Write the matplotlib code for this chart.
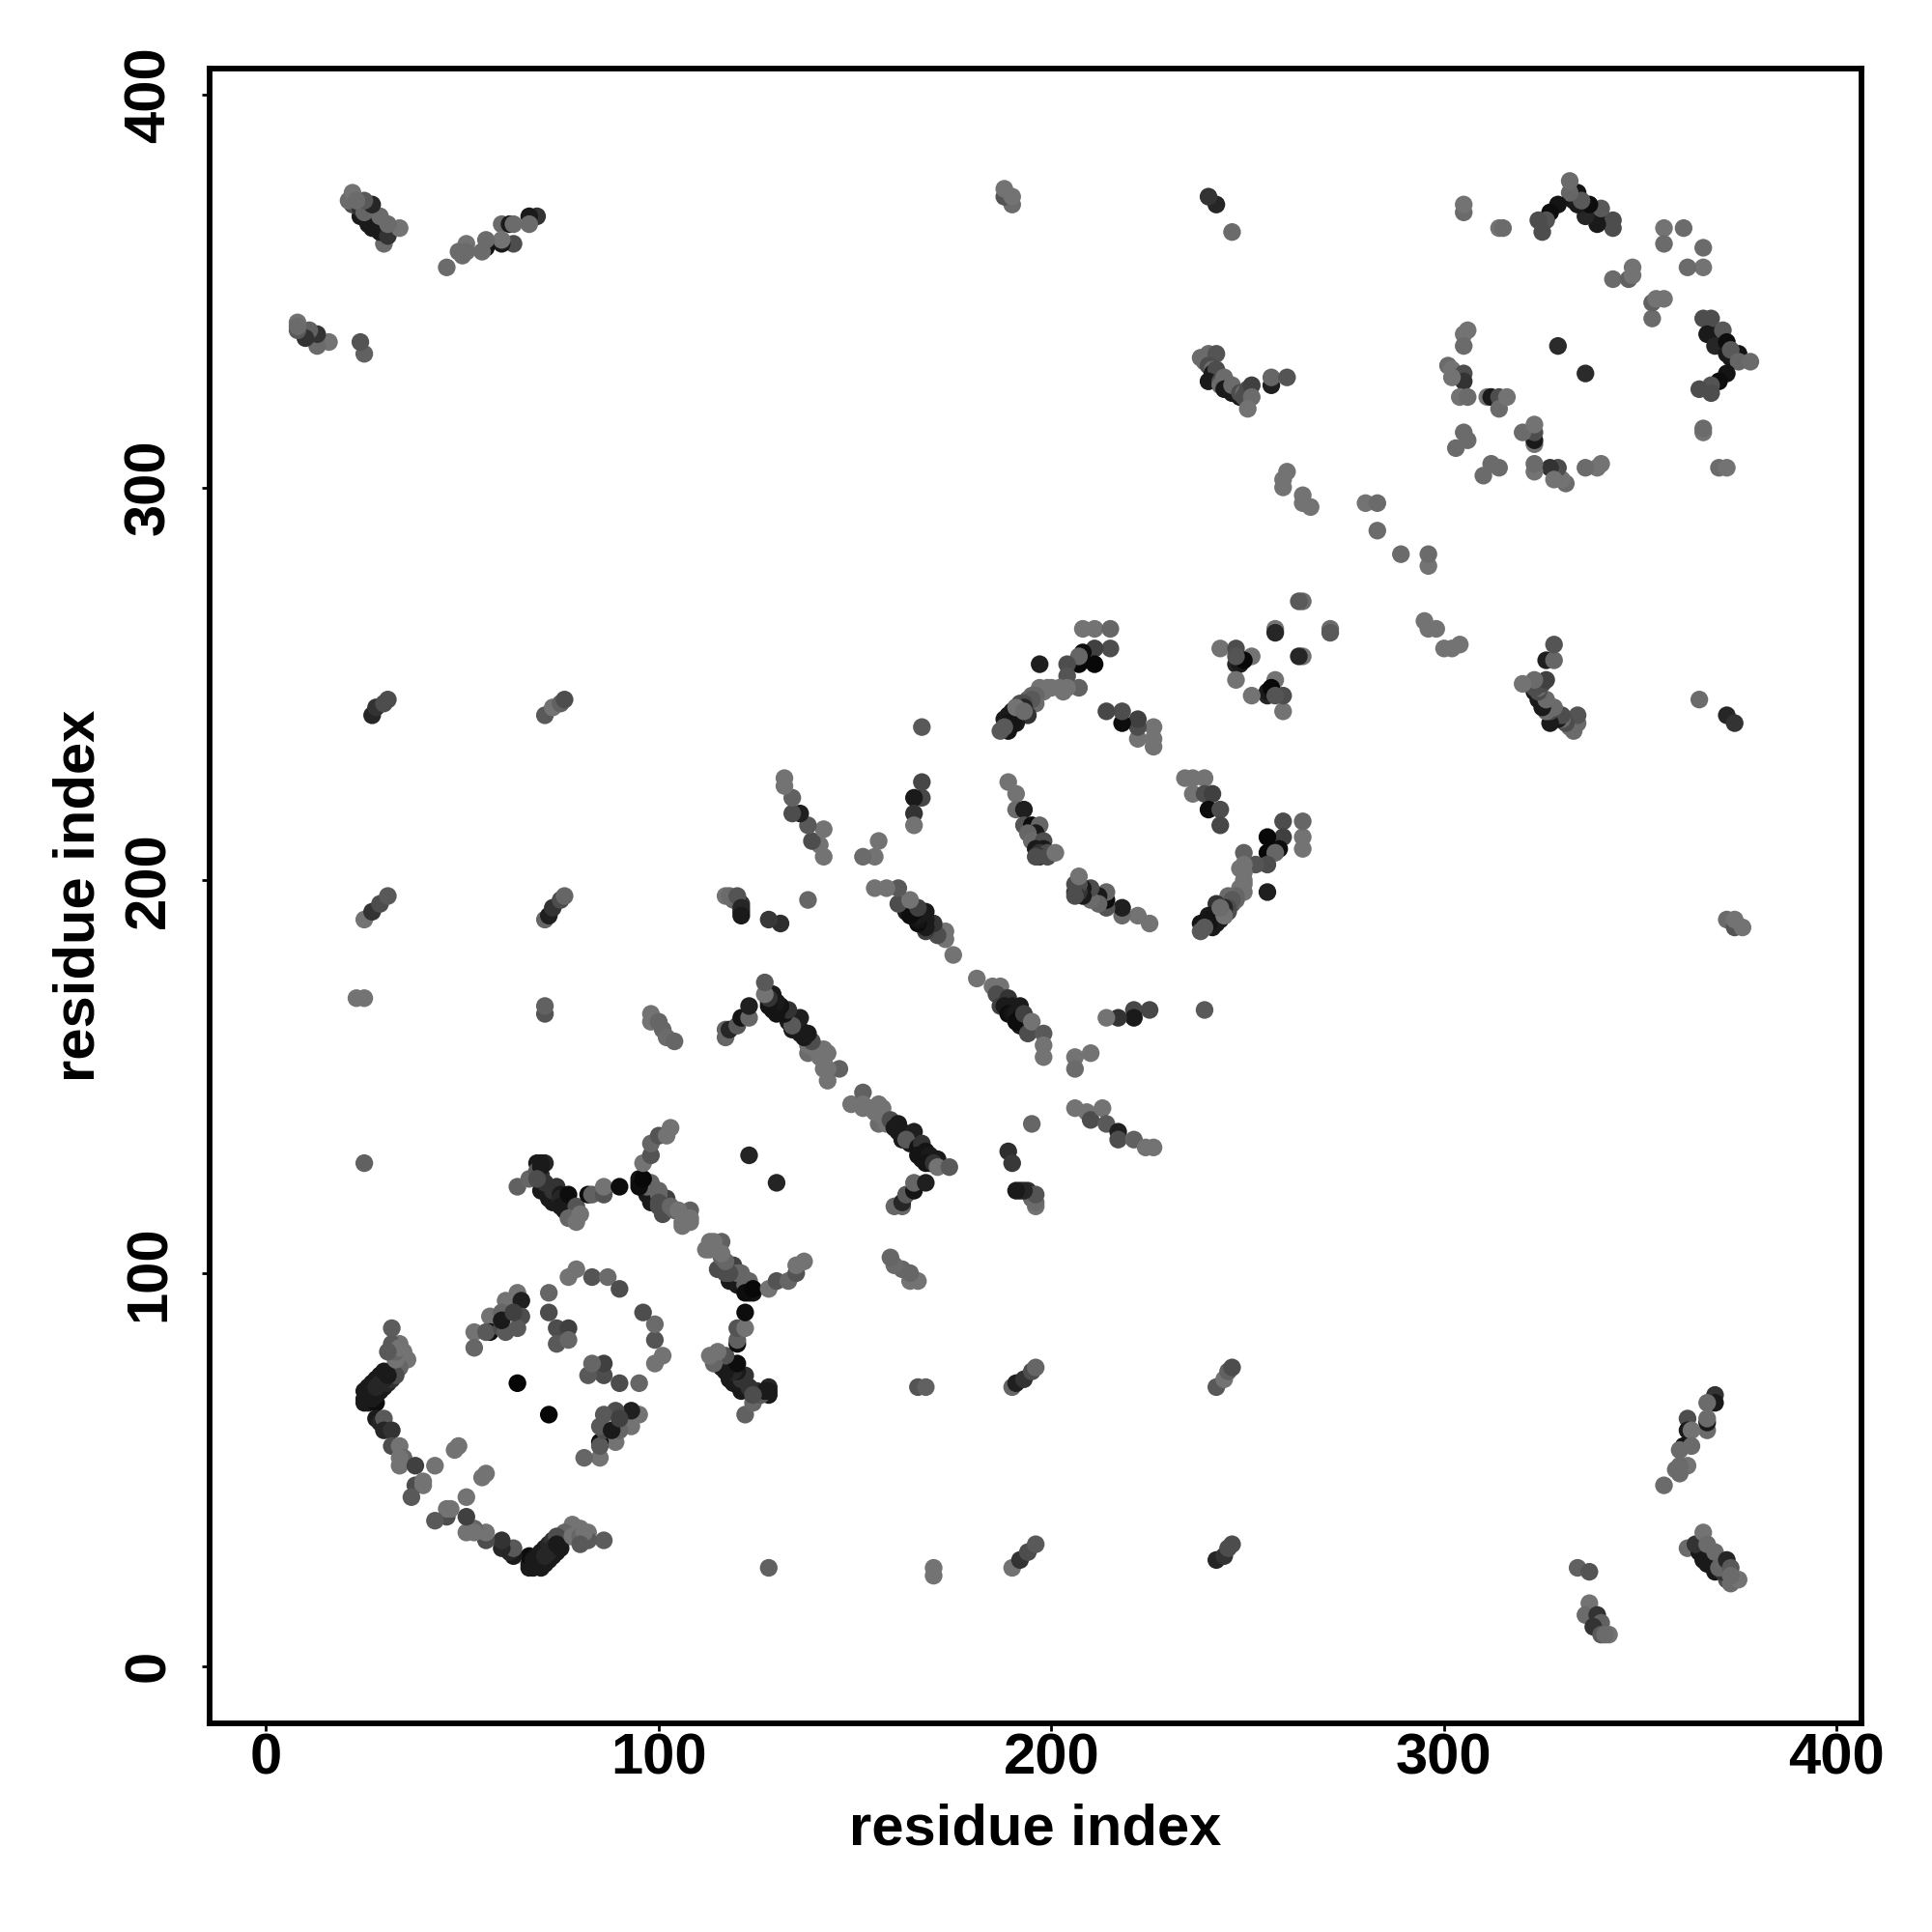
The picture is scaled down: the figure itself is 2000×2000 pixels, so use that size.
import matplotlib
matplotlib.use("Agg")
import matplotlib.pyplot as plt

plt.rcParams['font.family'] = ['Liberation Sans', 'DejaVu Sans']
plt.rcParams['font.weight'] = 'bold'

# contact pairs: (residue a, residue b, grey level); the map is symmetric
arc_outer = [(86,32,.36),(82,34,.45),(82,32,.35),(80,35,.45),(78,36,.45),(77,33,.4),(76,34,.4),(75,32,.3),
             (74,29,.1),(73,28,.1),(72,27,.1),(71,26,.1),(70,25,.1),(68,25,.1),(67,25,.1),(69,26,.1),(67,26,.1),(67,28,.05),(68,27,.1),
             (69,28,.1),(70,29,.1),(71,30,.1),(72,31,.15),(73,32,.2),(74,33,.3),
             (70,27,.1),(71,28,.15),(72,29,.15),(73,30,.15),(74,31,.1),(75,30,.1),
             (78,33,.45),(79,33,.45),(80,33,.4),(81,34,.45),(80,31,.35),
             (63,28,.1),(62,29,.15),(63,30,.35),(60,30,.15),(60,32,.2),(56,32,.3),(56,34,.45),(53,35,.4),(51,34,.45),(53,34,.45),
             (51,38,.25),(51,43,.45),(46,38,.3),(46,40,.45),(47,40,.45),(43,37,.35),(56,49,.45),(55,48,.45)]
arc_inner = [(85,53,.45),(81,53,.4),(89,57,.45),(85,57,.05),(85,56,.35),(86,60,.3),(85,61,.35),(93,61,.45),(90,60,.4),
             (88,60,.1),(95,64,.45),(93,65,.12),(89,65,.3),(86,64,.35),(90,63,.25),
             (95,72,.4),(90,72,.3),(86,74,.3),(82,74,.35),(86,77,.25),(83,77,.4),
             (99,77,.45),(101,79,.45),(99,83,.33),(99,87,.42),(96,90,.3),(72,64,.02)]
helix_a = [(122,64,.38),(124,67,.4),(128,69,.1),(128,71,.15),(126,69,.35),(121,70,.1),(123,70,.1),(125,70,.2),(127,70,.1),(128,70,.1),
           (123,71,.2),(119,72,.1),(118,73,.1),(121,73,.2),(122,74,.2),(120,75,.1),(119,75,.15),
           (117,75,.1),(116,76,.1),(118,77,.1),(120,77,.05),(115,78,.1),(114,78,.3),(124,69,.3),(117,79,.33),(114,77,.4),(115,80,.45),(113,79,.45),
           (120,82,.05),(120,83,.38),(120,86,.33),(122,86,.45),(122,90,.05)]
helix_b = [(112,106,.45),(113,108,.45),(116,108,.38),(115,101,.3),(116,104,.38),(118,98,.1),(120,97,.1),(121,98,.1),(119,99,.1),
           (119,102,.25),(121,100,.4),(120,100,.4),(118,100,.3),(117,100,.3),(117,103,.4),(116,105,.45),(113,107,.45),(114,108,.45),(113,106,.45),
           (123,98,.4),(122,97,.4),(123,95,.08),(124,95,.08),(122,95,.05),(124,96,.03),(128,96,.45),
           (130,98,.33),(133,98,.4),(135,100,.33),(135,102,.45),(137,103,.45)]
strip_a = [(166,98,.45),(164,98,.45),(164,100,.4),(162,101,.4),(160,102,.42),(159,104,.4),
           (166,71,.33),(168,71,.38),(130,123,.14),
           (160,117,.4),(162,117,.4),(162,118,.15),(163,120,.35),(165,121,.08),(165,123,.4),(168,123,.12),
           (149,143,.45),(152,146,.38),(152,143,.45),(154,142,.45),(156,143,.45),(156,138,.42),(157,142,.45),(158,138,.45),(157,140,.45),(152,142,.45),(155,141,.45),
           (159,139,.3),(160,137,.1),(162,136,.1),(162,134,.1),(163,135,.1),(164,133,.1),(164,135,.1),
           (161,136,.1),(161,138,.1),(165,133,.1),(165,136,.12),(163,134,.35),(166,132,.08),(167,131,.1),(167,133,.2),(166,130,.08),(168,131,.08),
           (167,129,.08),(169,130,.1),(169,128,.1),(170,129,.1),(168,128,.08),(171,129,.1),(170,128,.2),(171,127,.45),(174,127,.35)]
strip_b = [(181,175,.45),(185,173,.45),(187,173,.45),(186,171,.3),(188,170,.3),(187,168,.25),(189,170,.2),(188,168,.1),(190,168,.1),(189,166,.05),(190,166,.08),(192,168,.1),
           (191,166,.1),(192,165,.05),(192,163,.1),(193,164,.05),(194,163,.3),
           (191,164,.05),(193,166,.25),(194,161,.3),(195,164,.45),(198,161,.35),(198,158,.45),(198,155,.45),
           (206,155,.45),(210,156,.45),(206,152,.42),(225,167,.28),(221,167,.28),(221,165,.1),(217,165,.2),(214,165,.45),
           (239,167,.35),
           (206,142,.45),(209,141,.45),(210,139,.3),(213,142,.45),(214,138,.35),(217,136,.12),(217,134,.3),(221,134,.38),(224,132,.45),(226,132,.45)]
arc_mid = [(225,189,.45),(222,191,.45),(218,191,.42),(218,193,.12),(214,193,.33),(214,195,.05),(214,197,.4),(212,196,.1),(212,194,.4),(210,195,.42),
           (210,198,.3),(208,196,.1),(208,198,.1),(207,197,.2),(207,199,.3),(206,197,.2),(206,199,.3),(206,196,.3),(207,201,.45),
           (234,226,.45),(236,226,.45),(239,226,.45),(236,222,.45),(239,222,.3),(241,222,.25),
           (240,218,.05),(243,218,.3),(243,214,.28)]
strip_c = [(264,208,.45),(264,211,.45),(264,215,.4),(259,215,.3),(259,211,.25),(258,208,.05),(255,211,.03),(255,207,.03),(257,207,.4),
           (255,204,.3),(252,204,.33),(249,207,.38),(255,197,.12),
           (249,204,.45),(249,202,.45),(248,203,.45),(249,200,.45),(249,199,.45),(248,198,.45),(249,197,.45),(247,196,.4),(245,196,.42),(246,194,.35),(242,194,.2),(245,192,.3),
           (247,195,.4),(246,195,.35),(245,193,.3),(244,193,.15),(243,192,.1),(244,191,.1),(243,190,.1),(242,191,.1),(242,189,.1),
           (241,191,.1),(240,191,.1),(241,190,.1),(240,190,.08),(239,189,.1),(241,188,.1),(240,189,.08),(238,189,.08),(238,187,.35),(239,188,.35),
           (244,191,.45),(243,193,.42)]
corner_a = [(259,243,.45),(259,247,.3),(255,247,.15),(255,248,.1),(257,251,.45),(256,249,.03),(251,247,.45),
            (264,257,.45),(263,257,.15),(271,264,.42),(271,263,.35),(257,247,.33),
            (296,264,.45),(295,266,.45),(298,264,.45),(300,259,.45),(302,259,.45),(304,260,.45),
            (296,280,.45),(296,283,.42),(289,283,.42)]
cluster_a = [(333,238,.42),(332,239,.42),(334,240,.42),(334,242,.33),(331,240,.3),(330,241,.42),(329,241,.1),(328,242,.1),(330,242,.3),(327,240,.1),
             (327,243,.3),(326,244,.1),(326,243,.42),(325,245,.1),(325,246,.42),(324,246,.1),(323,248,.1),
             (328,244,.42),(325,244,.1),(326,246,.42),(324,248,.3),(324,249,.42),(322,250,.42),(325,250,.3),(323,249,.3),
             (326,251,.25),(323,251,.42),(320,250,.45),(326,256,.12),(328,256,.4),(328,260,.33)]
ring_c = [(340,306,.45),(339,305,.45),(336,305,.42),(331,301,.42),(330,302,.45),(329,305,.3),(327,305,.2),(328,302,.45),
          (323,304,.45),(323,306,.42),(323,311,.45),(323,312,.1),(323,314,.3),(320,314,.42),(323,316,.45),
          (314,305,.42),(310,303,.42),(312,306,.42),(336,329,.17)]
corner_b = [(366,356,.45),(362,356,.42),(366,361,.42),(353,343,.42),(353,347,.38),(354,348,.45),(356,348,.45),
            (369,340,.1),(370,338,.1),(371,336,.08),(372,335,.05),(373,333,.1),(374,333,.08),
            (366,343,.3),(368,343,.3),(367,339,.1),(371,340,.35),(369,336,.15),(372,337,.05),(372,334,.1),(375,334,.08),(373,335,.35),
            (375,332,.4),(378,332,.42),(372,329,.08),(370,327,.05),(368,326,.33),(365,325,.3),(368,324,.3),
            (366,314,.45),(366,315,.42),(370,305,.42),(372,305,.45),
            (372,190,.42),(374,188,.33),(376,188,.45),(374,190,.45),(372,242,.15),(374,240,.2),(365,246,.42)]
far_a = [(369,69,.2),(369,67,.1),(367,67,.42),(367,60,.42),(367,62,.1),(367,63,.42),(362,63,.3),(362,60,.1),(363,60,.45),(361,56,.08),(363,56,.42),
         (360,55,.42),(362,51,.45),(360,51,.42),(359,50,.42),(360,49,.42),(356,46,.42),
         (362,30,.42),(365,29,.1),(366,27,.1),(367,26,.1),(368,27,.1),(369,24,.1),(370,26,.1),(372,22,.3),(373,21,.42),(364,31,.2),(366,34,.45),(367,31,.42),
         (369,29,.42),(371,24,.2),(370,25,.4),(372,27,.15),(373,25,.35),(375,22,.45),(373,23,.42),
         (334,25,.38),(337,24,.33),(337,16,.45),(336,13,.42),(339,13,.2),(340,11,.38),(338,10,.2),(340,8,.35),(342,8,.45),(341,8,.42)]
far_b = [(128,25,.38),(170,25,.45),(170,23,.45),(190,25,.45),(192,27,.2),(194,29,.3),(196,31,.35),
         (242,27,.15),(244,28,.2),(245,30,.3),(246,31,.3),
         (190,71,.4),(191,72,.12),(193,73,.2),(195,75,.3),(196,76,.4),(242,71,.35),(244,73,.45),(245,75,.38),(246,76,.3),
         (189,131,.18),(190,128,.22),(192,121,.12),(194,121,.2),(195,119,.4),(196,117,.45),(195,138,.4),
         (196,118,.42),(196,120,.33),(193,121,.15),(191,121,.1)]

clusters = [arc_outer, arc_inner, helix_a, helix_b, strip_a, strip_b, arc_mid, strip_c,
            corner_a, cluster_a, ring_c, corner_b, far_a, far_b]
tick_values = [0, 100, 200, 300, 400]
axis_label = "residue index"

pairs = [p for c in clusters for p in c]
xs = [p[0] for p in pairs] + [p[1] for p in pairs]
ys = [p[1] for p in pairs] + [p[0] for p in pairs]
greys = [str(p[2]) for p in pairs] * 2

fig = plt.figure(figsize=(10, 10), dpi=200, facecolor='white')
ax = fig.add_axes([217/2000, 1-1784/2000, 1710/2000, 1713/2000])
ax.scatter(xs, ys, s=43.5, c=greys, linewidths=0)
ax.set_xlim(-14.39, 406.3)
ax.set_ylim(-14.58, 406.6)
for s in ax.spines.values():
    s.set_linewidth(2.1)
ax.set_xticks(tick_values)
ax.set_yticks(tick_values)
ax.tick_params(axis='x', length=2.8, width=1.0, pad=0.7, labelsize=21.5)
ax.tick_params(axis='y', length=2.8, width=1.0, pad=9.7, labelsize=21.5)
for t in ax.get_yticklabels():
    t.set_rotation(90)
    t.set_va('center')
ax.set_xlabel(axis_label, fontsize=21.5, fontweight='bold', va='center')
ax.set_ylabel(axis_label, fontsize=21.5, fontweight='bold', va='center')
ax.xaxis.set_label_coords(0.5, -0.0645)
ax.yaxis.set_label_coords(-0.0792, 0.5)
fig.savefig("out.png", dpi=200)
